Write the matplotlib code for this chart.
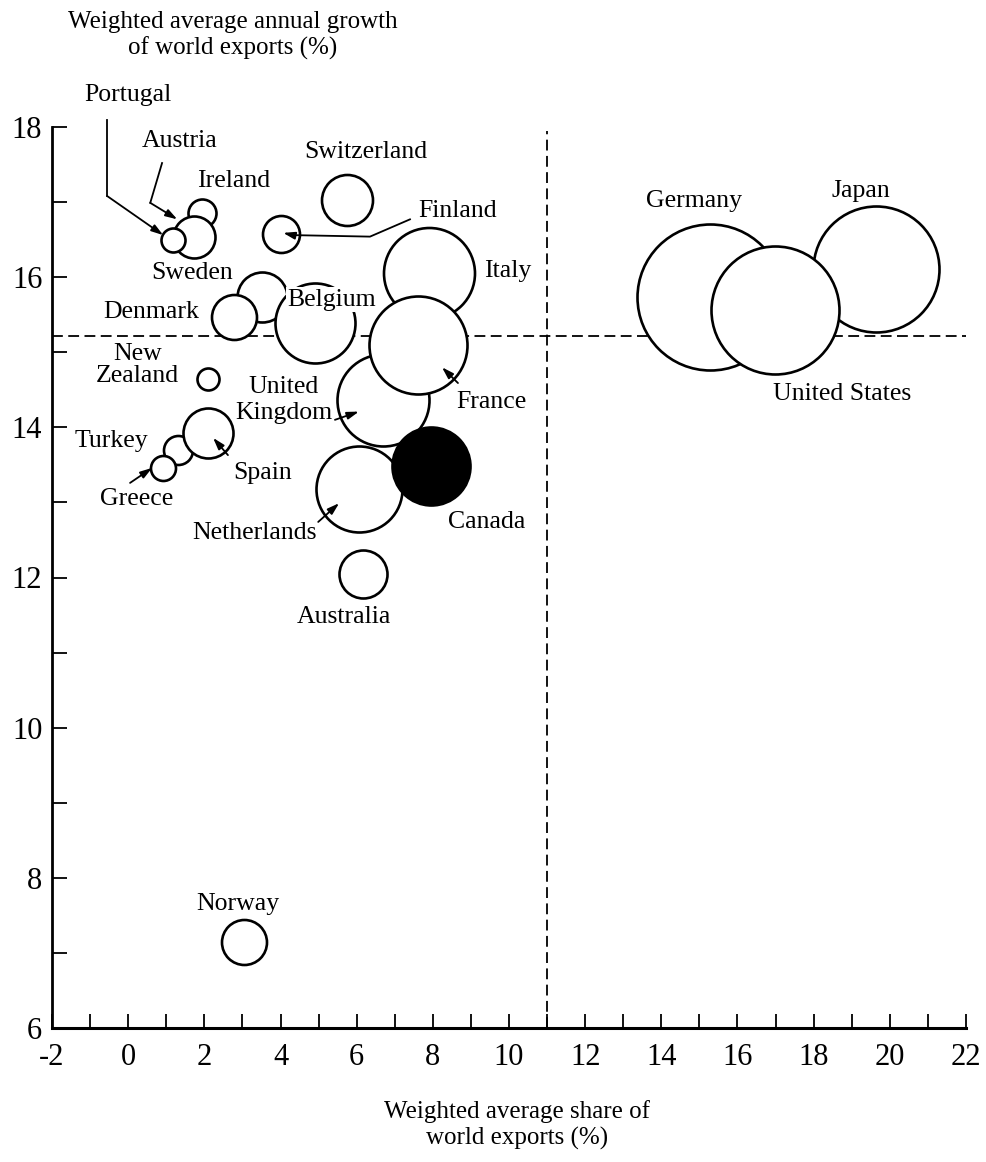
import matplotlib
matplotlib.use("Agg")
import matplotlib.pyplot as plt

# ---------------- data ----------------
countries = ["Ireland", "Austria", "Portugal", "Sweden", "Denmark", "Belgium",
             "Switzerland", "Finland", "Italy", "United Kingdom", "France",
             "Netherlands", "Canada", "Australia", "New Zealand", "Turkey",
             "Spain", "Greece", "Norway", "Germany", "Japan", "United States"]
share_x = [1.94, 1.72, 1.18, 3.52, 2.78, 4.91,
           5.75, 4.02, 7.90, 6.69, 7.61,
           6.06, 7.95, 6.17, 2.10, 1.31,
           2.10, 0.91, 3.03, 15.28, 19.63, 16.98]
growth_y = [16.85, 16.53, 16.49, 15.74, 15.47, 15.39,
            17.03, 16.58, 16.06, 14.37, 15.10,
            13.18, 13.49, 12.05, 14.65, 13.70,
            13.93, 13.46, 7.15, 15.74, 16.11, 15.56]
# bubble radius (pixels at 100 dpi)
bubble_r = [14, 21, 12, 25, 22.5, 40,
            25.5, 18.5, 45.5, 46, 49,
            43, 39, 24, 11, 14.5,
            25, 12.5, 22.5, 73, 63, 64]
highlight = "Canada"

avg_growth = 15.22
avg_share = 11.0

x_ticks = list(range(-2, 23, 2))
y_ticks = list(range(6, 19, 2))

# ---------------- layout / style ----------------
label_pos = {
    "Portugal": (0.0, 18.43), "Austria": (1.34, 17.81), "Ireland": (2.78, 17.28),
    "Switzerland": (6.25, 17.67), "Finland": (8.66, 16.88), "Sweden": (1.68, 16.06),
    "Denmark": (0.60, 15.54), "Belgium": (5.35, 15.70), "Italy": (9.97, 16.08),
    "New Zealand": (0.24, 14.83), "United Kingdom": (4.09, 14.36),
    "France": (9.55, 14.34), "Turkey": (-0.45, 13.82), "Spain": (3.54, 13.39),
    "Greece": (0.21, 13.05), "Canada": (9.42, 12.74), "Netherlands": (3.31, 12.59),
    "Australia": (5.67, 11.48), "Norway": (2.89, 7.65), "Germany": (14.86, 17.01),
    "Japan": (19.24, 17.15), "United States": (18.74, 14.44),
}
label_text = {"New Zealand": "New\nZealand", "United Kingdom": "United\nKingdom"}

FONT = ["Liberation Serif", "DejaVu Serif"]
plt.rcParams["font.family"] = FONT

DPI = 100
fig = plt.figure(figsize=(9.87, 11.62), dpi=DPI)
ax = fig.add_axes([52/987, 1 - 1028/1162, (966-52)/987, (1028-127)/1162])
ax.set_xlim(-2, 22)
ax.set_ylim(6, 18)

# reference lines
ax.plot([-2, 22], [avg_growth, avg_growth], color="black", lw=1.3,
        ls=(0, (6, 3)), zorder=1, clip_on=False)
ax.plot([avg_share, avg_share], [6, 17.95], color="black", lw=1.3,
        ls=(0, (6, 3)), zorder=1, clip_on=False)

# bubbles
for i, (c, x, y, r) in enumerate(zip(countries, share_x, growth_y, bubble_r)):
    d_pt = 2 * r * 72 / DPI
    fc = "black" if c == highlight else "white"
    ax.scatter([x], [y], s=d_pt**2, facecolor=fc, edgecolor="black",
               linewidth=1.9, zorder=2 + i * 0.01, clip_on=False)

# labels
for c in countries:
    tx, ty = label_pos[c]
    kw = {}
    if c == "Belgium":
        kw["bbox"] = dict(facecolor="white", edgecolor="none", pad=1)
    ax.text(tx, ty, label_text.get(c, c), ha="center", va="center",
            fontsize=18.5, zorder=10,
            linespacing=1.25 if c == "United Kingdom" else 1.0, **kw)

# leader lines with arrows
arrow_kw = dict(arrowstyle="-|>,head_length=0.7,head_width=0.22",
                color="black", lw=1.3, shrinkA=0, shrinkB=0)
leaders = [
    [(-0.55, 18.09), (-0.55, 17.08), (0.92, 16.56)],          # Portugal
    [(0.89, 17.52), (0.58, 16.99), (1.29, 16.77)],            # Austria
    [(7.40, 16.77), (6.35, 16.54), (4.33, 16.56), (4.07, 16.59)],  # Finland
    [(5.43, 14.10), (6.06, 14.21)],                           # UK
    [(8.66, 14.59), (8.24, 14.80)],                           # France
    [(2.62, 13.63), (2.23, 13.86)],                           # Spain
    [(0.05, 13.26), (0.63, 13.46)],                           # Greece
    [(4.99, 12.74), (5.54, 12.99)],                           # Netherlands
]
for path in leaders:
    if len(path) > 2:
        xs = [p[0] for p in path[:-1]]
        ys = [p[1] for p in path[:-1]]
        ax.plot(xs, ys, color="black", lw=1.3, zorder=9, clip_on=False)
    ax.annotate("", xy=path[-1], xytext=path[-2], arrowprops=arrow_kw,
                zorder=9, annotation_clip=False)

# axes styling
for s in ["top", "right"]:
    ax.spines[s].set_visible(False)
ax.spines["left"].set_linewidth(2.0)
ax.spines["bottom"].set_linewidth(2.2)
ax.spines["left"].set_bounds(6, 18)
ax.spines["bottom"].set_bounds(-2, 22)

ax.set_xticks(x_ticks)
ax.set_xticklabels([str(t) for t in x_ticks])
ax.set_xticks(list(range(-1, 22, 2)), minor=True)
ax.set_yticks(y_ticks)
ax.set_yticklabels([str(t) for t in y_ticks])
ax.set_yticks(list(range(7, 18, 2)), minor=True)
ax.tick_params(axis="both", which="both", direction="in", width=1.3,
               color="black")
ax.tick_params(axis="x", which="both", length=10)
ax.tick_params(axis="y", which="both", length=11)
ax.tick_params(axis="x", which="major", labelsize=22, pad=11)
ax.tick_params(axis="y", which="major", labelsize=22, pad=7)

# axis titles
fig.text(233/987, 1 - 35.5/1162,
         "Weighted average annual growth\nof world exports (%)",
         ha="center", va="center", fontsize=18, linespacing=1.15)
fig.text(517/987, 1 - 1125/1162,
         "Weighted average share of\nworld exports (%)",
         ha="center", va="center", fontsize=18, linespacing=1.2)

fig.savefig("out.png", dpi=DPI, facecolor="white")
